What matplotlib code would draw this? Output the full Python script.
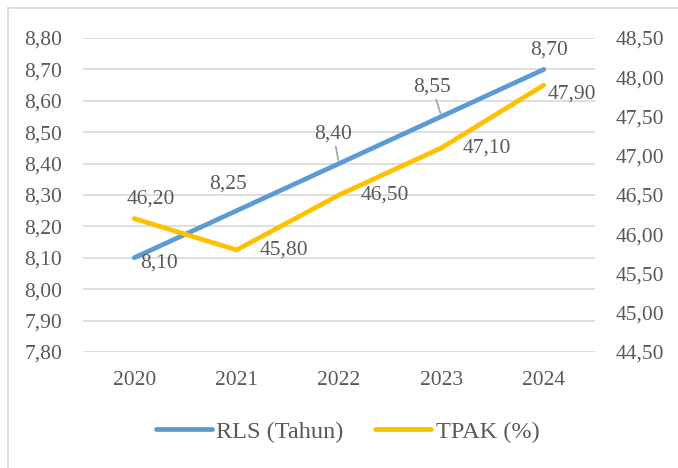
import matplotlib.pyplot as plt
from matplotlib.lines import Line2D
from matplotlib.ticker import FuncFormatter

years = ["2020", "2021", "2022", "2023", "2024"]
rls = [8.10, 8.25, 8.40, 8.55, 8.70]
tpak = [46.20, 45.80, 46.50, 47.10, 47.90]

# label offsets in points (dx, dy) for each data label
rls_offsets = [(18, -4), (-6.5, 19), (-4, 21), (-6.5, 21), (4, 14)]
tpak_offsets = [(12, 14), (34, 0), (33, 0), (33, 0), (20, -6.5)]
rls_leader = [False, False, True, True, False]

blue = "#5B9BD5"
yellow = "#FFC000"
txt = "#595959"
fs = 15.5

plt.rcParams["font.family"] = ["Liberation Serif", "DejaVu Serif"]
plt.rcParams["font.size"] = fs

fig = plt.figure(figsize=(6.78, 4.68), dpi=100)
ax = fig.add_axes([0.1224, 0.2479, 0.7552, 0.6709])
ax2 = ax.twinx()

x = list(range(len(years)))
ax.plot(x, rls, color=blue, lw=3.4, solid_capstyle="round", zorder=3)
ax2.plot(x, tpak, color=yellow, lw=3.4, solid_capstyle="round", zorder=3)

ax.set_xlim(-0.5, 4.5)
ax.set_ylim(7.8, 8.8)
ax2.set_ylim(44.5, 48.5)
ax.set_yticks([7.8 + 0.1 * i for i in range(11)])
ax2.set_yticks([44.5 + 0.5 * i for i in range(9)])
comma = FuncFormatter(lambda v, p: f"{v:.2f}".replace(".", ","))
ax.yaxis.set_major_formatter(comma)
ax2.yaxis.set_major_formatter(comma)
ax.set_xticks(x)
ax.set_xticklabels(years)

ax.grid(axis="y", color="#D9D9D9", lw=1.2)
ax.set_axisbelow(True)
for a in (ax, ax2):
    for s in a.spines.values():
        s.set_visible(False)
    a.tick_params(length=0, colors=txt, labelsize=fs)
ax.tick_params(axis="y", pad=15)
ax2.tick_params(axis="y", pad=14.5)
ax.tick_params(axis="x", pad=14)

for i in x:
    dx, dy = rls_offsets[i]
    arrow = dict(arrowstyle="-", color="#A6A6A6", lw=1.3, shrinkA=0, shrinkB=2.5) if rls_leader[i] else None
    ax.annotate(f"{rls[i]:.2f}".replace(".", ","), (i, rls[i]), xytext=(dx, dy),
                textcoords="offset points", ha="center", va="center", color=txt,
                arrowprops=arrow, zorder=5)
    dx, dy = tpak_offsets[i]
    ax2.annotate(f"{tpak[i]:.2f}".replace(".", ","), (i, tpak[i]), xytext=(dx, dy),
                 textcoords="offset points", ha="center", va="center", color=txt, zorder=5)

handles = [Line2D([], [], color=blue, lw=3.4, solid_capstyle="round"),
           Line2D([], [], color=yellow, lw=3.4, solid_capstyle="round")]
leg = fig.legend(handles, ["RLS (Tahun)", "TPAK (%)"], loc="center", bbox_to_anchor=(0.513, 0.077),
                 ncol=2, frameon=False, handlelength=2.3, handletextpad=0.2, columnspacing=1.3,
                 fontsize=17.5)
for t in leg.get_texts():
    t.set_color(txt)

# outer chart border
fig.add_artist(Line2D([8 / 678, 8 / 678], [0, 1 - 8 / 468], transform=fig.transFigure, color="#D9D9D9", lw=1.2))
fig.add_artist(Line2D([8 / 678, 1], [1 - 8 / 468, 1 - 8 / 468], transform=fig.transFigure, color="#D9D9D9", lw=1.2))

fig.savefig("out.png", dpi=100)
